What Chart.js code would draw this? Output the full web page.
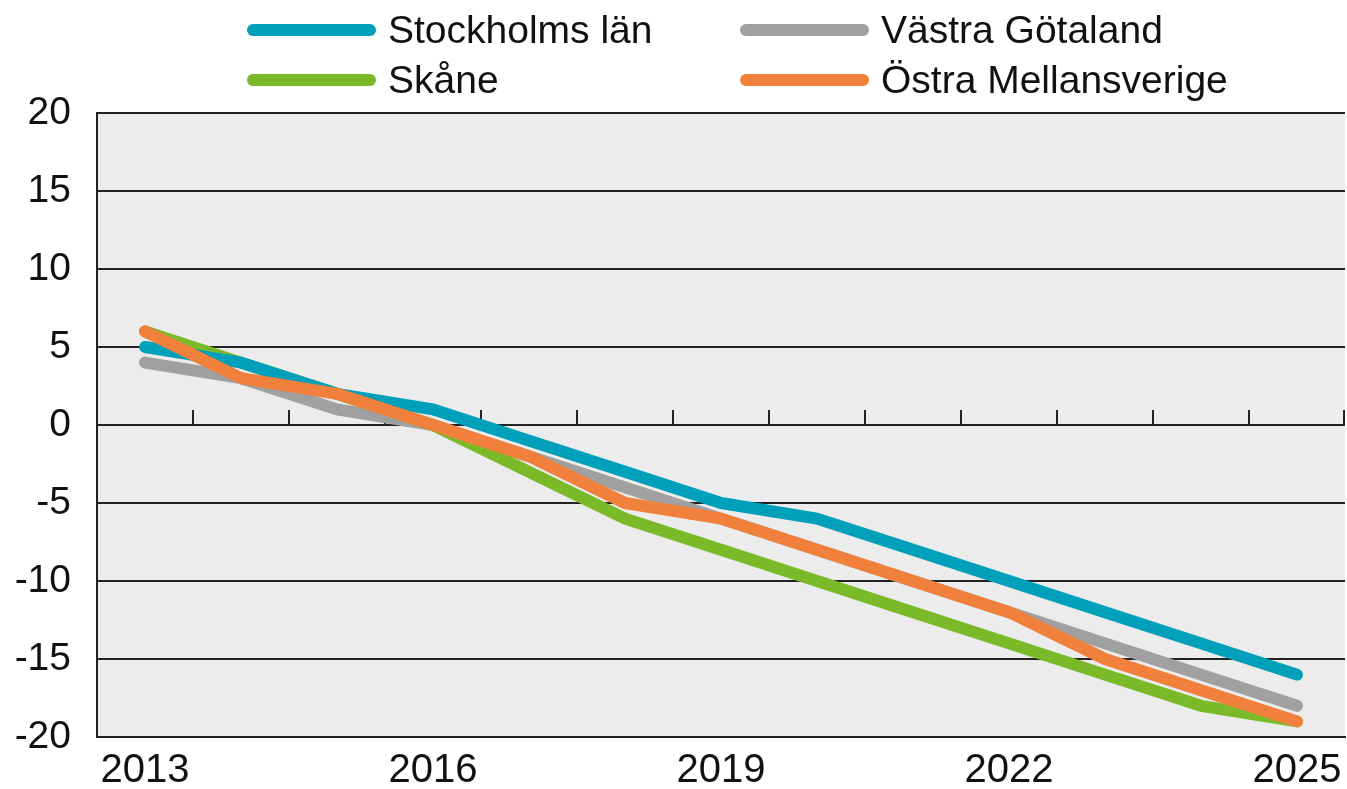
<!DOCTYPE html>
<html>
<head>
<meta charset="utf-8">
<script src="https://cdn.jsdelivr.net/npm/chart.js@4.4.1/dist/chart.umd.min.js"></script>
<style>
  html, body { margin: 0; padding: 0; background: #fff; }
  #wrap { position: relative; width: 1347px; height: 789px; }
  #legend { position: absolute; left: 0; top: 0; width: 1347px; height: 110px; font-family: "Liberation Sans", Arial, sans-serif; font-size: 39px; color: #111; }
  .item { position: absolute; display: flex; align-items: center; height: 46px; }
  .swatch { width: 129px; height: 12px; border-radius: 6px; margin-right: 12px; }
</style>
</head>
<body>
<div id="wrap">
  <canvas id="chart" width="1347" height="789"></canvas>
  <div id="legend"></div>
</div>
<script>
// Data
const years = ['2013', '2014', '2015', '2016', '2017', '2018', '2019', '2020', '2021', '2022', '2023', '2024', '2025'];
const stockholm = [5, 4, 2, 1, -1, -3, -5, -6, -8, -10, -12, -14, -16];
const vastraGotaland = [4, 3, 1, 0, -2, -4, -6, -8, -10, -12, -14, -16, -18];
const skane = [6, 4, 2, 0, -3, -6, -8, -10, -12, -14, -16, -18, -19];
const ostraMellansverige = [6, 3, 2, 0, -2, -5, -6, -8, -10, -12, -15, -17, -19];
const yTicks = [-20, -15, -10, -5, 0, 5, 10, 15, 20];

const series = [
    { label: 'Stockholms län', data: stockholm, color: '#009fba', order: 1 },
    { label: 'Västra Götaland', data: vastraGotaland, color: '#a0a0a0', order: 3 },
    { label: 'Skåne', data: skane, color: '#7aba28', order: 2 },
    { label: 'Östra Mellansverige', data: ostraMellansverige, color: '#f0803c', order: 0 },
];

// HTML legend, 2 x 2 grid
const legendPos = [[247, 7], [740, 7], [247, 57], [740, 57]];
const legendEl = document.getElementById('legend');
series.forEach((s, i) => {
    const item = document.createElement('div');
    item.className = 'item';
    item.style.left = legendPos[i][0] + 'px';
    item.style.top = legendPos[i][1] + 'px';
    const sw = document.createElement('span');
    sw.className = 'swatch';
    sw.style.background = s.color;
    const txt = document.createElement('span');
    txt.textContent = s.label;
    item.appendChild(sw);
    item.appendChild(txt);
    legendEl.appendChild(item);
});

// grey plot background
const plotBg = {
    id: 'plotBg',
    beforeDraw(chart) {
        const { ctx, chartArea: a } = chart;
        ctx.save();
        ctx.fillStyle = '#ececec';
        ctx.fillRect(a.left, a.top, a.right - a.left, a.bottom - a.top);
        ctx.restore();
    }
};

// small tick marks standing on the zero line, between categories
const zeroTicks = {
    id: 'zeroTicks',
    beforeDatasetsDraw(chart) {
        const { ctx, scales: { x, y } } = chart;
        const y0 = y.getPixelForValue(0);
        const half = (x.getPixelForValue(1) - x.getPixelForValue(0)) / 2;
        ctx.save();
        ctx.strokeStyle = '#222';
        ctx.lineWidth = 2;
        ctx.beginPath();
        for (let i = 0; i < years.length; i++) {
            const px = Math.min(Math.round(x.getPixelForValue(i) + half), chart.chartArea.right - 1);
            ctx.moveTo(px, y0);
            ctx.lineTo(px, y0 - 15);
        }
        ctx.stroke();
        ctx.restore();
    }
};

const ctx = document.getElementById('chart').getContext('2d');
new Chart(ctx, {
    type: 'line',
    data: {
        labels: years,
        datasets: series.map(s => ({
            label: s.label,
            data: s.data,
            borderColor: s.color,
            backgroundColor: s.color,
            borderWidth: 12,
            borderCapStyle: 'round',
            borderJoinStyle: 'round',
            pointRadius: 0,
            tension: 0,
            order: s.order,
        }))
    },
    options: {
        responsive: false,
        animation: false,
        layout: { padding: { top: 113, right: 2, left: 0, bottom: 0 } },
        plugins: {
            legend: { display: false },
            tooltip: { enabled: false }
        },
        scales: {
            x: {
                offset: true,
                grid: { display: false, drawTicks: false },
                border: { display: true, color: '#222', width: 2 },
                ticks: {
                    autoSkip: false,
                    maxRotation: 0,
                    padding: 10,
                    color: '#111',
                    font: { family: '"Liberation Sans", Arial, sans-serif', size: 40 },
                    callback: (v, i) => (i % 3 === 0 ? years[i] : '')
                },
                afterFit: s => { s.height = 52; s.paddingRight = 0; s.paddingLeft = 0; }
            },
            y: {
                min: -20,
                max: 20,
                afterBuildTicks: s => { s.ticks = yTicks.map(v => ({ value: v })); },
                grid: { color: '#222', lineWidth: 2, drawTicks: false },
                border: { display: true, color: '#222', width: 2 },
                ticks: {
                    padding: 26,
                    color: '#111',
                    font: { family: '"Liberation Sans", Arial, sans-serif', size: 39 }
                },
                afterFit: s => { s.width = 97; }
            }
        }
    },
    plugins: [plotBg, zeroTicks]
});
</script>
</body>
</html>
